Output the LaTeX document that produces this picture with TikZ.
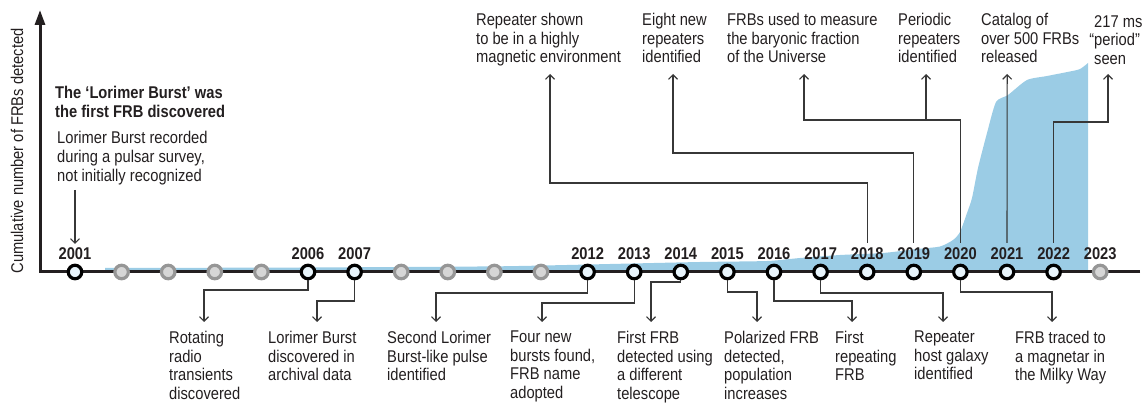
\documentclass[tikz,border=0pt]{standalone}
\usepackage{fontspec}
\setmainfont{Liberation Sans}[FakeStretch=0.865]
\usetikzlibrary{arrows.meta,calc}
\definecolor{frbblue}{RGB}{155,204,229}
\definecolor{ink}{RGB}{35,31,32}
\definecolor{conncol}{RGB}{55,55,55}
\definecolor{dotfill}{RGB}{232,244,251}
\definecolor{graystroke}{RGB}{150,150,150}
\definecolor{grayfill}{RGB}{214,214,214}
\begin{document}
\begin{tikzpicture}[x=1pt,y=-1pt,
  txt/.style={font=\fontsize{17}{18.5}\selectfont, text=ink, align=left, anchor=north west, inner sep=0pt},
  headtxt/.style={txt, font=\bfseries\fontsize{17}{19}\selectfont},
  yr/.style={font=\bfseries\fontsize{17}{18}\selectfont, text=ink, anchor=base, inner sep=0pt},
  yeardot/.style={circle, draw=black, line width=3.2pt, fill=dotfill, minimum size=13.5pt, inner sep=0pt},
  graydot/.style={yeardot, draw=graystroke, fill=grayfill},
  conn/.style={draw=conncol, line width=1.1pt, -{Straight Barb[length=4.5pt,width=9pt]}},
  axisline/.style={line width=3pt, draw=ink}]
\useasboundingbox (0,0) rectangle (1146,403);

% cumulative area
\fill[frbblue] (105,272) -- plot[smooth,tension=0.4] coordinates {(105,268) (200,267.8) (300,267.5) (400,267) (500,266.3) (567,265) (610,264) (700,262) (767,261) (800,258) (840,255) (883,253) (917,249) (940,246.5) (953,240) (960,232) (967,213) (972,198) (978,168) (987,133) (996,102) (1008,95) (1027,80) (1047,76) (1077,70) (1083,67) (1088,63)} -- (1088,272) -- cycle;

% axes
\coordinate (O) at (40,272);
\coordinate (Xend) at (1140,272);
\coordinate (Ytop) at (40,10);
\draw[axisline, -{Triangle[length=15pt,width=10pt]}] (Xend) -- (O) -- (Ytop);
\node[font=\fontsize{17}{18}\selectfont, text=ink, rotate=90, inner sep=0pt] (ylab) at (17,151) {Cumulative number of FRBs detected};

% year dots
\foreach \yy in {2002,2003,2004,2005,2008,2009,2010,2011,2023} {
  \node[graydot] (c\yy) at ({75+46.6*(\yy-2001)},272) {};
}
\foreach \yy in {2001,2006,2007,2012,2013,2014,2015,2016,2017,2018,2019,2020,2021,2022} {
  \node[yeardot] (c\yy) at ({75+46.6*(\yy-2001)},272) {};
}
\foreach \yy in {2001,2006,2007,2012,2013,2014,2015,2016,2017,2018,2019,2020,2021,2022,2023} {
  \node[yr] (y\yy) at ({75+46.6*(\yy-2001)},260) {\yy};
}

% left annotation
\node[headtxt] (h01) at (55,86) {The ‘Lorimer Burst’ was\\the first FRB discovered};
\node[txt, font=\fontsize{17}{19}\selectfont] (l01) at (57,131) {Lorimer Burst recorded\\during a pulsar survey,\\not initially recognized};
\coordinate (la) at (75,190);
\draw[conn] (la) -- ([yshift=4pt]y2001.north);

% bottom annotations
\node[txt] (b06) at (169,331) {Rotating\\radio\\transients\\discovered};
\node[txt] (b07) at (268,331) {Lorimer Burst\\discovered in\\archival data};
\node[txt] (b12) at (387,331) {Second Lorimer\\Burst-like pulse\\identified};
\node[txt] (b13) at (510,331) {Four new\\bursts found,\\FRB name\\adopted};
\node[txt] (b14) at (617,331) {First FRB\\detected using\\a different\\telescope};
\node[txt] (b15) at (724,331) {Polarized FRB\\detected,\\population\\increases};
\node[txt] (b16) at (835,331) {First\\repeating\\FRB};
\node[txt] (b17) at (914,331) {Repeater\\host galaxy\\identified};
\node[txt] (b20) at (1015,331) {FRB traced to\\a magnetar in\\the Milky Way};

\coordinate (k06) at (204,290);  \coordinate (a06) at (204,322);
\coordinate (k07) at (317,301);  \coordinate (a07) at (317,322);
\coordinate (k12) at (436,293);  \coordinate (a12) at (436,322);
\coordinate (k13) at (542,303);  \coordinate (a13) at (542,322);
\coordinate (k14) at (651,282);  \coordinate (a14) at (651,322);
\coordinate (k15) at (757,292);  \coordinate (a15) at (757,322);
\coordinate (k16) at (852,301);  \coordinate (a16) at (852,322);
\coordinate (k17) at (943,293);  \coordinate (a17) at (943,322);
\coordinate (k20) at (1052,292); \coordinate (a20) at (1052,322);

\draw[conn] (c2006.south) |- (k06) -- (a06);
\draw[conn] (c2007.south) |- (k07) -- (a07);
\draw[conn] (c2012.south) |- (k12) -- (a12);
\draw[conn] (c2013.south) |- (k13) -- (a13);
\draw[conn] (c2014.south) |- (k14) -- (a14);
\draw[conn] (c2015.south) |- (k15) -- (a15);
\draw[conn] (c2016.south) |- (k16) -- (a16);
\draw[conn] (c2017.south) |- (k17) -- (a17);
\draw[conn] (c2020.south) |- (k20) -- (a20);

% top annotations
\node[txt] (t18) at (476,13) {Repeater shown\\to be in a highly\\magnetic environment};
\node[txt] (t19) at (642,13) {Eight new\\repeaters\\identified};
\node[txt] (t20a) at (727,13) {FRBs used to measure\\the baryonic fraction\\of the Universe};
\node[txt] (t20b) at (898,13) {Periodic\\repeaters\\identified};
\node[txt] (t21) at (981,13) {Catalog of\\over 500 FRBs\\released};
\node[txt] (t22) at (1094,15) {217 ms\\\llap{“}period”\\seen};

\coordinate (u18) at (550,183);  \coordinate (p18) at (550,74);
\coordinate (u19) at (673,153);  \coordinate (p19) at (673,74);
\coordinate (u20) at (804,120);  \coordinate (p20a) at (804,74);
\coordinate (j20) at (926,120);  \coordinate (p20b) at (926,74);
\coordinate (p21) at (1007.2,74);
\coordinate (u22) at (1108,122); \coordinate (p22) at (1108,74);

\draw[conn] ([yshift=5pt]y2018.north) |- (u18) -- (p18);
\draw[conn] ([yshift=5pt]y2019.north) |- (u19) -- (p19);
\draw[conn] ([yshift=5pt]y2020.north) |- (u20) -- (p20a);
\draw[conn] (j20) -- (p20b);
\draw[conn] ([yshift=5pt]y2021.north) -- (p21);
\draw[conn] ([yshift=5pt]y2022.north) |- (u22) -- (p22);
\end{tikzpicture}
\end{document}
